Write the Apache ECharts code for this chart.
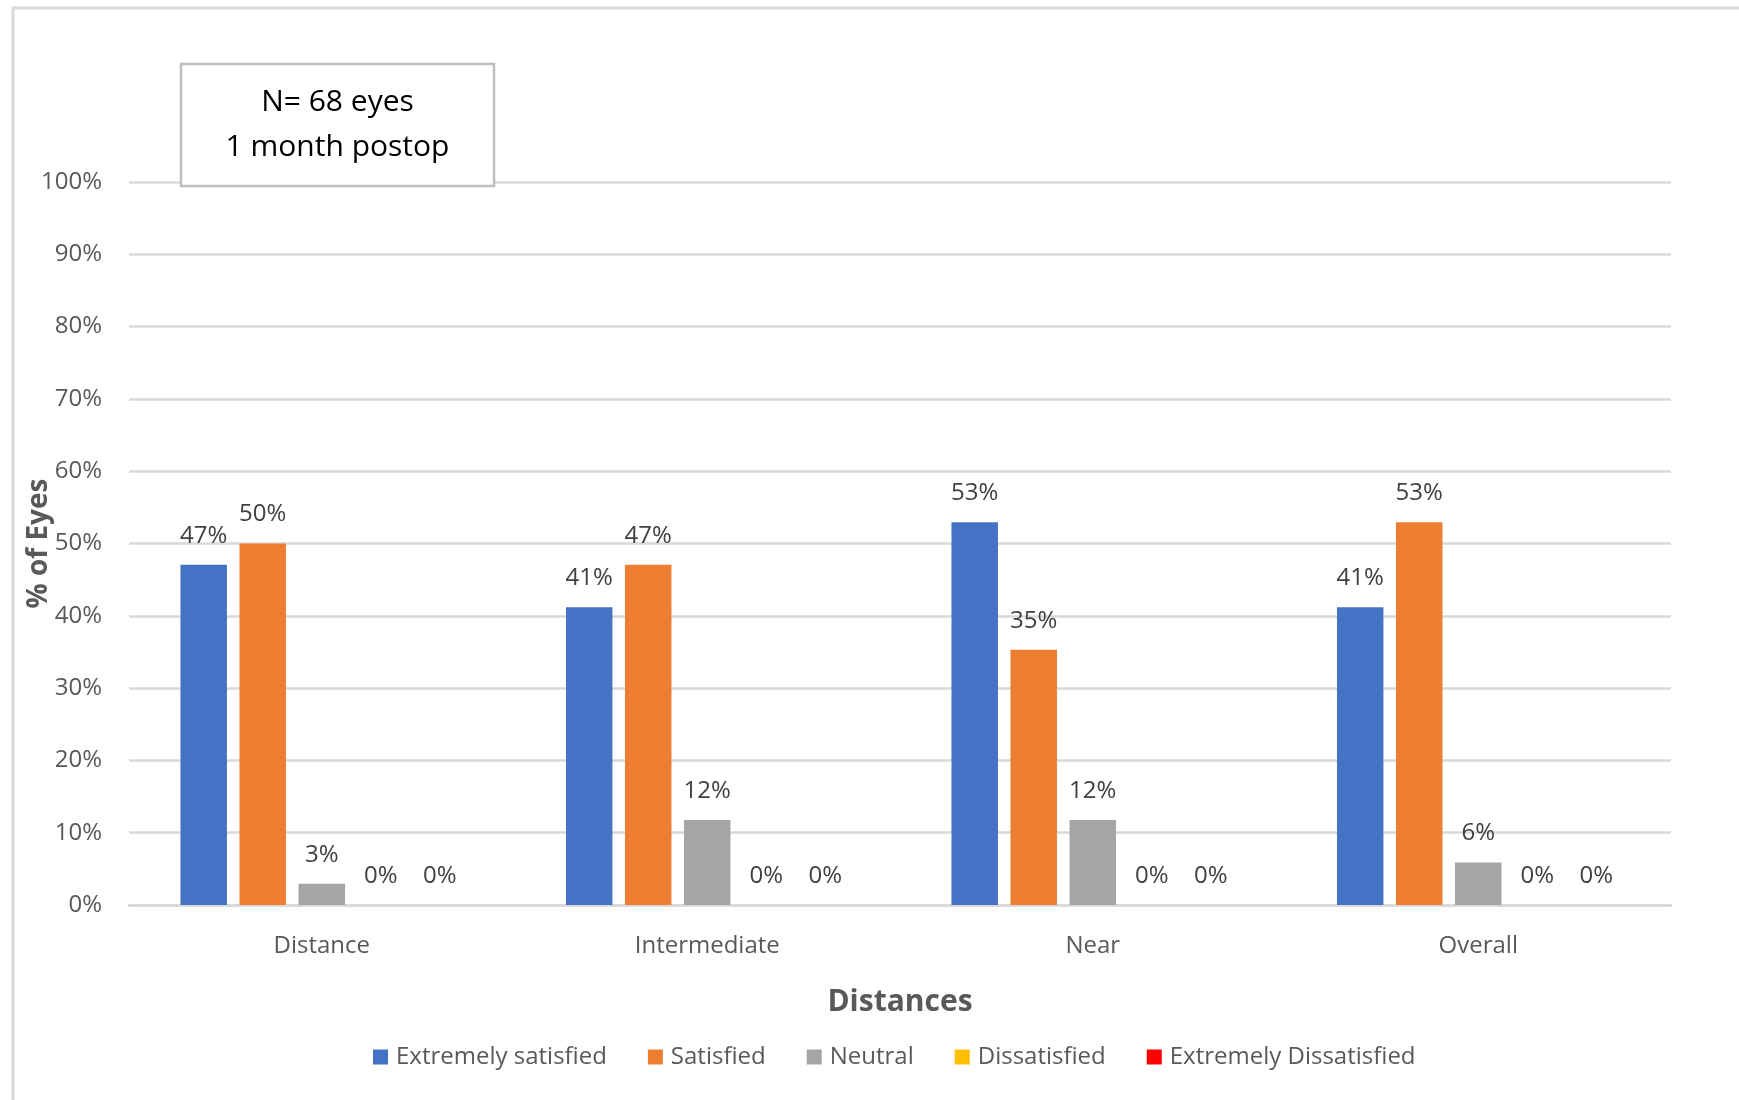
<!DOCTYPE html>
<html>
<head>
<meta charset="utf-8">
<script src="https://cdn.jsdelivr.net/npm/echarts@6/dist/echarts.min.js"></script>
<style>
html,body{margin:0;padding:0;background:#fff;}
#chart{width:1739px;height:1100px;}
</style>
</head>
<body>
<div id="chart"></div>
<script>
const categories = ['Distance', 'Intermediate', 'Near', 'Overall'];
const seriesNames = ['Extremely satisfied', 'Satisfied', 'Neutral', 'Dissatisfied', 'Extremely Dissatisfied'];
const extremelySatisfied = [47.06, 41.18, 52.94, 41.18];
const satisfied = [50.00, 47.06, 35.29, 52.94];
const neutral = [2.94, 11.76, 11.76, 5.88];
const dissatisfied = [0, 0, 0, 0];
const extremelyDissatisfied = [0, 0, 0, 0];
const yTicks = [0, 10, 20, 30, 40, 50, 60, 70, 80, 90, 100];
const colors = ['#4472C4', '#ED7D31', '#A5A5A5', '#FFC000', '#FF0000'];
const annotationText = 'N= 68 eyes\n1 month postop';

const FONT = '"Open Sans", "Liberation Sans", sans-serif';
const seriesData = [extremelySatisfied, satisfied, neutral, dissatisfied, extremelyDissatisfied];

const chart = echarts.init(document.getElementById('chart'));
chart.setOption({
  animation: false,
  backgroundColor: '#ffffff',
  color: colors,
  textStyle: { fontFamily: FONT },
  grid: { left: 129, right: 68, top: 182, bottom: 195, containLabel: false, outerBoundsMode: 'none' },
  legend: {
    left: 368, top: 1040,
    itemWidth: 15, itemHeight: 15, itemGap: 41,
    icon: 'rect',
    textStyle: { fontFamily: FONT, fontSize: 24, color: '#595959', padding: [0, 0, 0, 3] },
    data: seriesNames
  },
  xAxis: {
    type: 'category',
    data: categories,
    name: 'Distances',
    nameLocation: 'middle',
    nameGap: 82,
    nameTextStyle: { fontFamily: FONT, fontSize: 30, fontWeight: 'bold', color: '#595959' },
    axisLine: { show: true, lineStyle: { color: '#d9d9d9', width: 2.5 } },
    axisTick: { show: false },
    axisLabel: { fontFamily: FONT, fontSize: 24, color: '#595959', margin: 29 }
  },
  yAxis: {
    type: 'value',
    min: 0, max: 100, interval: 10,
    name: '% of Eyes',
    nameLocation: 'middle',
    nameGap: 76,
    nameMoveOverlap: false,
    nameRotate: 90,
    nameTextStyle: { fontFamily: FONT, fontSize: 28, fontWeight: 'bold', color: '#595959' },
    axisLine: { show: false },
    axisTick: { show: false },
    splitLine: { show: true, lineStyle: { color: '#d9d9d9', width: 2.5 } },
    axisLabel: {
      fontFamily: FONT, fontSize: 24, color: '#595959', margin: 27,
      formatter: v => (yTicks.indexOf(v) >= 0 ? v + '%' : '')
    }
  },
  series: seriesNames.map((name, i) => ({
    name: name,
    type: 'bar',
    data: seriesData[i],
    barCategoryGap: '26.7%',
    barGap: '27%',
    itemStyle: { color: colors[i] },
    label: {
      show: true,
      position: 'top',
      distance: 17,
      fontFamily: FONT,
      fontSize: 24,
      color: '#404040',
      formatter: p => Math.round(p.value) + '%'
    }
  })),
  graphic: [
    {
      type: 'polyline',
      shape: { points: [[13, 1100], [13, 8], [1739, 8]] },
      style: { stroke: '#d9d9d9', lineWidth: 3, fill: null },
      silent: true
    },
    {
      type: 'rect',
      shape: { x: 181, y: 64, width: 313, height: 122 },
      style: { fill: '#ffffff', stroke: '#bfbfbf', lineWidth: 2.5 },
      z: 10
    },
    {
      type: 'text',
      x: 337.5, y: 125,
      style: {
        text: annotationText,
        fontFamily: FONT, fontSize: 30, fill: '#000000',
        align: 'center', verticalAlign: 'middle', lineHeight: 45
      },
      z: 11
    }
  ]
});
</script>
</body>
</html>
